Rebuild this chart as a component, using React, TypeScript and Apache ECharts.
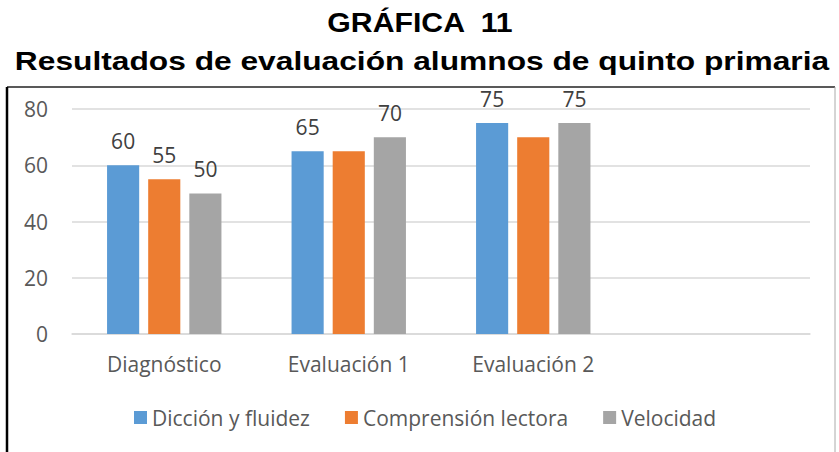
import React, { useEffect, useRef } from "react";
import * as echarts from "echarts";

const categories = ["Diagnóstico", "Evaluación 1", "Evaluación 2", ""];
const seriesNames = ["Dicción y fluidez", "Comprensión lectora", "Velocidad"];
const diccion = [60, 65, 75];
const comprension = [55, 65, 70];
const velocidad = [50, 70, 75];
// which data labels are visible in the original (per series, per category)
const labelVisible = [
  [true, true, true],
  [true, false, false],
  [true, true, true],
];
const yTicks = [0, 20, 40, 60, 80];
const titleLine1 = "GRÁFICA  11";
const titleLine2 = "Resultados de evaluación alumnos de quinto primaria";
const colors = ["#5b9bd5", "#ed7d31", "#a5a5a5"];

const FONT = "'Open Sans', sans-serif";
const TFONT = "'Liberation Sans', Arial, sans-serif";

export default function App() {
  const ref = useRef<HTMLDivElement>(null);
  useEffect(() => {
    if (!ref.current) return;
    const chart = echarts.init(ref.current, undefined, { renderer: "svg" });
    const values = [diccion, comprension, velocidad];
    chart.setOption({
      animation: false,
      backgroundColor: "#ffffff",
      graphic: [
        {
          type: "text",
          x: 420,
          y: 23,
          scaleX: 1.12,
          style: { text: titleLine1, align: "center", verticalAlign: "middle", fontFamily: TFONT, fontWeight: "bold", fontSize: 27, fill: "#000" },
        },
        {
          type: "text",
          x: 422,
          y: 61,
          scaleX: 1.22,
          style: { text: titleLine2, align: "center", verticalAlign: "middle", fontFamily: TFONT, fontWeight: "bold", fontSize: 26, fill: "#000" },
        },
        { type: "line", shape: { x1: 7, y1: 87, x2: 835, y2: 87 }, style: { stroke: "#222", lineWidth: 1.5 } },
        { type: "line", shape: { x1: 7, y1: 87, x2: 7, y2: 452 }, style: { stroke: "#000", lineWidth: 2.5 } },
        { type: "line", shape: { x1: 835, y1: 87, x2: 835, y2: 452 }, style: { stroke: "#aaa", lineWidth: 1 } },
      ],
      legend: {
        data: seriesNames,
        left: 129,
        top: 402,
        icon: "rect",
        itemWidth: 13,
        itemHeight: 13,
        itemGap: 35,
        textStyle: { fontFamily: FONT, fontSize: 21, color: "#595959" },
      },
      grid: { left: 72, right: 29, top: 109, bottom: 118, containLabel: false },
      xAxis: {
        type: "category",
        data: categories,
        axisLine: { show: true, lineStyle: { color: "#d9d9d9", width: 1.5 } },
        axisTick: { show: false },
        axisLabel: { fontFamily: FONT, fontSize: 21, color: "#595959", margin: 19 },
      },
      yAxis: {
        type: "value",
        min: yTicks[0],
        max: yTicks[yTicks.length - 1],
        interval: 20,
        axisLine: { show: false },
        axisTick: { show: false },
        splitLine: { lineStyle: { color: "#d9d9d9", width: 1.5 } },
        axisLabel: { fontFamily: FONT, fontSize: 21, color: "#595959", margin: 24 },
      },
      series: seriesNames.map((name, si) => ({
        name,
        type: "bar",
        barGap: "28%",
        barCategoryGap: "38%",
        itemStyle: { color: colors[si] },
        label: {
          position: "top",
          distance: 14,
          fontFamily: FONT,
          fontSize: 21,
          color: "#404040",
        },
        data: values[si].map((v, ci) => ({ value: v, label: { show: labelVisible[si][ci] } })),
      })),
    });
    return () => chart.dispose();
  }, []);
  return <div ref={ref} style={{ width: 839, height: 452, position: "absolute", left: 0, top: 0 }} />;
}
